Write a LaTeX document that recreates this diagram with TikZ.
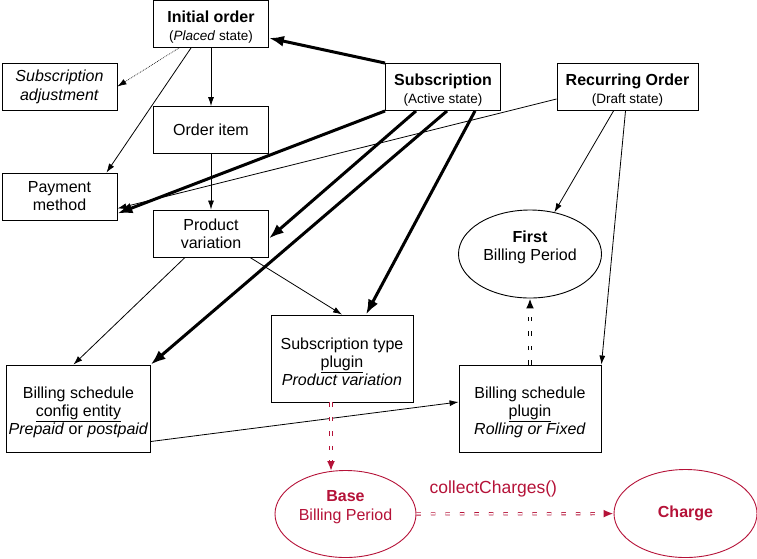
\documentclass[tikz,border=0pt]{standalone}
\usepackage{fontspec}
\setmainfont{Liberation Sans}
\usetikzlibrary{arrows.meta,shapes.geometric,decorations.markings}
\definecolor{periodRed}{RGB}{181,18,56}
\newcommand{\statefont}{\fontsize{13.5}{15}\selectfont}
\newcommand{\topgap}[1]{\rule{0pt}{#1}}
\newcommand{\bottomgap}{\rule[-16.5pt]{0pt}{16.5pt}}
\tikzset{%
  >={Latex[width=6pt,length=9pt]},
  % Specifications for style of nodes:
          base/.style = {rectangle, draw=black, line width=0.9pt, align=center,
                         inner sep=2pt, font=\fontsize{16}{19}\selectfont},
        entity/.style = {base, minimum width=115pt, minimum height=47pt},
      schedule/.style = {base, minimum width=142pt, minimum height=87pt},
        period/.style = {base, ellipse, inner sep=0pt, minimum width=143pt, minimum height=88pt},
    basePeriod/.style = {period, draw=periodRed, text=periodRed},
  % Specifications for style of lines:
          weak/.style = {->, line width=0.8pt},
        strong/.style = {-{Latex[width=11pt,length=15pt]}, line width=3pt},
        hollow/.style = {line width=0.8pt, double, double distance=1.6pt,
                         dash pattern=on 4.5pt off 10pt, shorten >=9pt,
                         postaction={decorate, decoration={markings,
                           mark=at position 1 with {\arrow[solid]{Latex[width=8pt,length=10pt]}}}}},
}

\begin{document}
\begin{tikzpicture}[x=1pt, y=-1pt]
  \useasboundingbox (0,0) rectangle (757,558);
  % Specification of nodes (position, etc.)
  \node (initialOrder)   [entity] at (211,24)
                         {\topgap{17.5pt}\textbf{Initial order}\\[-1.7pt] {\statefont(\textit{Placed} state)}};
  \node (subAdjustment)  [entity] at (59.5,86.5)
                         {\textit{Subscription}\\ \textit{adjustment}};
  \node (subscription)   [entity] at (443,87)
                         {\topgap{17.5pt}\textbf{Subscription}\\[-1.7pt] {\statefont(Active state)}};
  \node (recurringOrder) [entity, minimum width=141pt] at (627.5,87)
                         {\topgap{17.5pt}\textbf{Recurring Order}\\[-1.7pt] {\statefont(Draft state)}};
  \node (orderItem)      [entity] at (211,130) {Order item};
  \node (paymentMethod)  [entity] at (59.5,196.5) {Payment\\[-1pt] method};
  \node (productVariation) [entity] at (211,233.5) {Product\\[-1pt] variation};
  \node (firstPeriod)    [period] at (530,254) {\textbf{First}\\[-1pt] Billing Period\bottomgap};
  \node (subType)        [schedule] at (342,358.5)
                         {\topgap{19pt}Subscription type\\[-1pt] \underline{plugin}\\[-1pt] \textit{Product variation}};
  \node (billingConfig)  [schedule, minimum width=143pt] at (78.5,408.5)
                         {\topgap{19pt}Billing schedule\\[-1pt] \underline{config entity}\\[-1pt] \textit{Prepaid} or \textit{postpaid}};
  \node (billingPlugin)  [schedule] at (530,408.5)
                         {\topgap{19pt}Billing schedule\\[-1pt] \underline{plugin}\\[-1pt] \textit{Rolling or Fixed}};
  \node (basePeriod)     [basePeriod, minimum width=141pt, minimum height=87pt] at (345.5,514)
                         {\textbf{Base}\\ Billing Period\bottomgap};
  \node (charge)         [basePeriod] at (685.5,513.5) {\textbf{Charge}};

  % Specification of lines between nodes specified above
  \draw[strong] (subscription.north west) -- ([yshift=-14pt]initialOrder.east);
  \draw[weak, densely dotted, line width=0.6pt] ([xshift=-32pt]initialOrder.south) -- (subAdjustment.east);
  \draw[weak] ([xshift=-20pt]initialOrder.south) -- ([xshift=47pt]paymentMethod.north);
  \draw[weak] (initialOrder) -- (orderItem);
  \draw[weak] (orderItem) -- (productVariation);

  \draw[strong] (subscription.south west) -- ([yshift=-17pt]paymentMethod.east);
  \draw[weak]   ([yshift=-12pt]recurringOrder.west) -- ([yshift=-12pt]paymentMethod.east);
  \draw[strong] ([xshift=-27pt]subscription.south) -- ([yshift=-5pt]productVariation.east);
  \draw[strong] ([xshift=4pt]subscription.south) -- (billingConfig.north east);
  \draw[strong] ([xshift=32pt]subscription.south) -- ([xshift=24pt]subType.north);

  \draw[weak] ([xshift=-26pt]productVariation.south) -- ([xshift=-5pt]billingConfig.north);
  \draw[weak] ([xshift=39pt]productVariation.south) -- (subType.north);

  \draw[weak] ([xshift=-14pt]recurringOrder.south) -- (firstPeriod);
  \draw[weak] ([xshift=-2pt]recurringOrder.south) -- (billingPlugin.north east);
  \draw[weak] ([yshift=-33pt]billingConfig.east) -- ([yshift=6.5pt]billingPlugin.west);

  \draw[hollow] (billingPlugin) -- (firstPeriod);
  \draw[hollow, periodRed] ([xshift=-11pt]subType.south) -- ([xshift=-14.5pt,yshift=-1pt]basePeriod.north);
  \draw[hollow, periodRed] (basePeriod) -- (charge)
        node[pos=0.39, above=13pt, text=periodRed, font=\fontsize{17.5}{20}\selectfont] (collectLabel) {collectCharges()};
\end{tikzpicture}
\end{document}
